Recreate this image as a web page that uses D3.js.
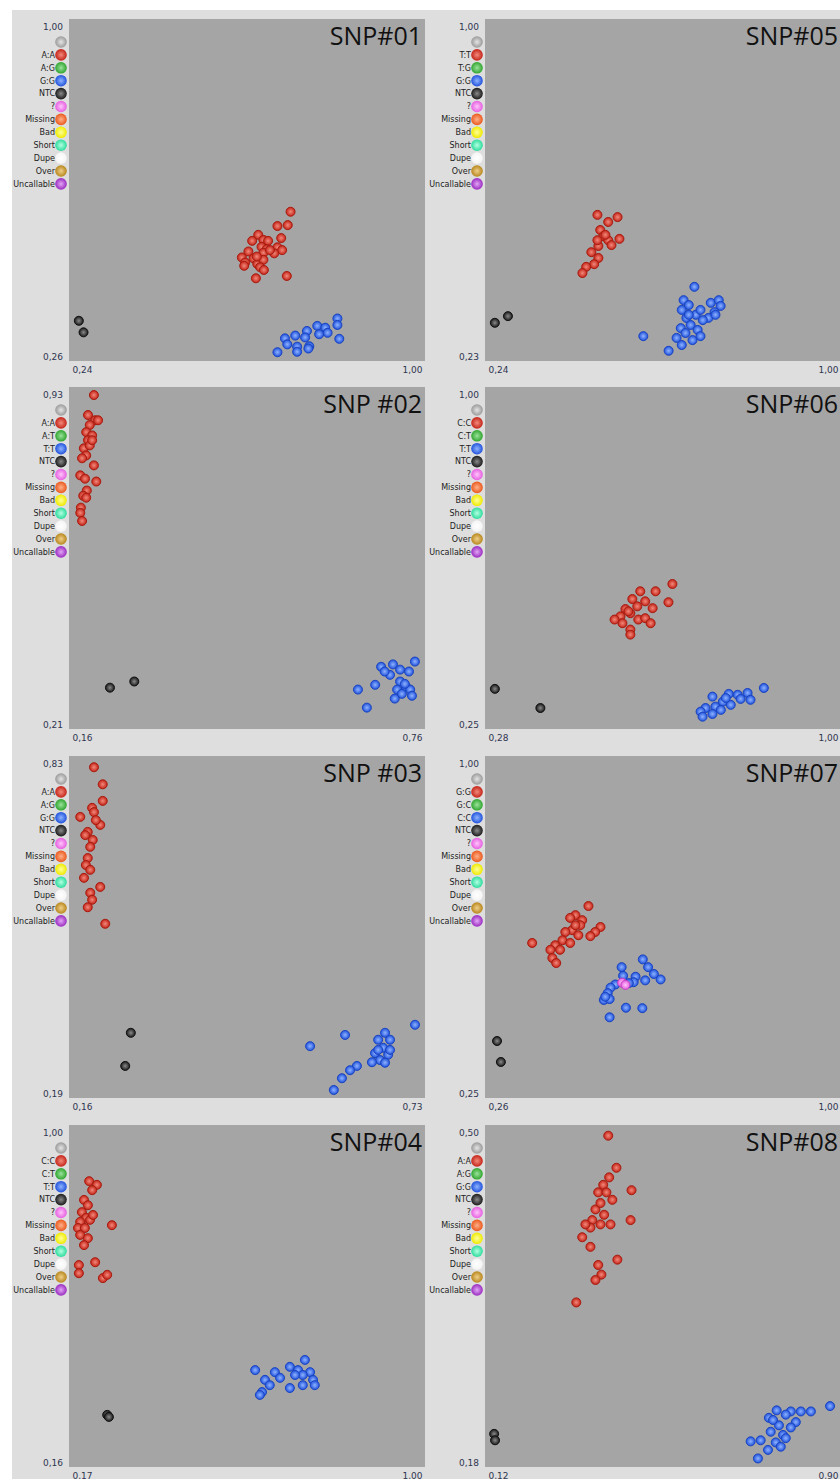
<!DOCTYPE html>
<html>
<head>
<meta charset="utf-8">
<script src="https://cdn.jsdelivr.net/npm/d3@7"></script>
<style>
  body { margin: 0; background: #fff; }
  svg { display: block; }
  .tick text { font-family: Tahoma, "DejaVu Sans", sans-serif; font-size: 9px; fill: #2e3550; }
  .legend text { font-family: Tahoma, "DejaVu Sans", sans-serif; font-size: 8px; fill: #222; }
  .title { font-family: "Open Sans", sans-serif; font-size: 25px; fill: #111; }
</style>
</head>
<body>
<svg width="840" height="1479"></svg>
<script>
// panel order: left column top to bottom, then right column
var titles = ["SNP#01", "SNP #02", "SNP #03", "SNP#04", "SNP#05", "SNP#06", "SNP#07", "SNP#08"];
var genotypes = [
  ["A:A", "A:G", "G:G"], ["A:A", "A:T", "T:T"], ["A:A", "A:G", "G:G"], ["C:C", "C:T", "T:T"],
  ["T:T", "T:G", "G:G"], ["C:C", "C:T", "T:T"], ["G:G", "G:C", "C:C"], ["A:A", "A:G", "G:G"]
];
var xRanges = [[0.24, 1.00], [0.16, 0.76], [0.16, 0.73], [0.17, 1.00], [0.24, 1.00], [0.28, 1.00], [0.26, 1.00], [0.12, 0.90]];
var yRanges = [[0.26, 1.00], [0.21, 0.93], [0.19, 0.83], [0.16, 1.00], [0.23, 1.00], [0.25, 1.00], [0.25, 1.00], [0.18, 0.50]];
var otherCalls = ["NTC", "?", "Missing", "Bad", "Short", "Dupe", "Over", "Uncallable"];

// [x, y] per sample: first homozygote (red), second homozygote (blue), NTC (black)
var snp01Hom1 = [[0.713,0.583],[0.685,0.552],[0.707,0.554],[0.644,0.533],[0.631,0.520],[0.655,0.522],[0.665,0.520],[0.693,0.526],[0.651,0.507],[0.662,0.502],[0.685,0.506],[0.695,0.500],[0.623,0.497],[0.655,0.494],[0.678,0.493],[0.609,0.484],[0.634,0.482],[0.616,0.473],[0.614,0.466],[0.642,0.470],[0.655,0.479],[0.648,0.463],[0.656,0.457],[0.639,0.439],[0.705,0.444],[0.669,0.500],[0.641,0.486]];
var snp01Hom2 = [[0.813,0.352],[0.813,0.338],[0.770,0.336],[0.787,0.332],[0.748,0.325],[0.792,0.321],[0.774,0.318],[0.723,0.315],[0.744,0.311],[0.701,0.309],[0.817,0.308],[0.706,0.296],[0.727,0.291],[0.753,0.292],[0.727,0.280],[0.685,0.279],[0.751,0.287]];
var snp01Ntc = [[0.261,0.347],[0.271,0.322]];

var snp02Hom1 = [[0.202,0.913],[0.192,0.871],[0.204,0.860],[0.195,0.850],[0.209,0.860],[0.189,0.835],[0.199,0.828],[0.192,0.818],[0.185,0.801],[0.195,0.807],[0.189,0.786],[0.182,0.780],[0.202,0.765],[0.179,0.744],[0.187,0.737],[0.206,0.731],[0.190,0.712],[0.184,0.701],[0.189,0.697],[0.180,0.676],[0.179,0.665],[0.182,0.648],[0.199,0.818]];
var snp02Hom2 = [[0.743,0.352],[0.706,0.346],[0.686,0.341],[0.718,0.335],[0.733,0.331],[0.701,0.324],[0.676,0.303],[0.718,0.310],[0.728,0.299],[0.713,0.293],[0.735,0.293],[0.738,0.280],[0.647,0.293],[0.721,0.284],[0.709,0.274],[0.662,0.255],[0.726,0.305],[0.692,0.331]];
var snp02Ntc = [[0.229,0.297],[0.270,0.310]];

var snp03Hom1 = [[0.200,0.809],[0.214,0.777],[0.214,0.746],[0.197,0.733],[0.178,0.716],[0.200,0.725],[0.210,0.701],[0.190,0.688],[0.198,0.673],[0.194,0.660],[0.190,0.639],[0.187,0.626],[0.194,0.617],[0.184,0.602],[0.210,0.585],[0.194,0.574],[0.197,0.561],[0.190,0.547],[0.218,0.516],[0.203,0.710],[0.186,0.682]];
var snp03Hom2 = [[0.714,0.327],[0.602,0.308],[0.546,0.287],[0.666,0.312],[0.674,0.299],[0.655,0.299],[0.663,0.284],[0.650,0.274],[0.671,0.271],[0.658,0.261],[0.645,0.257],[0.666,0.256],[0.621,0.250],[0.610,0.242],[0.597,0.227],[0.584,0.205],[0.655,0.280],[0.674,0.280]];
var snp03Ntc = [[0.259,0.312],[0.250,0.250]];

var snp04Hom1 = [[0.217,0.862],[0.235,0.853],[0.224,0.840],[0.205,0.816],[0.214,0.803],[0.200,0.786],[0.210,0.772],[0.196,0.762],[0.219,0.767],[0.226,0.779],[0.191,0.747],[0.207,0.747],[0.196,0.730],[0.214,0.722],[0.270,0.754],[0.231,0.663],[0.249,0.624],[0.259,0.632],[0.193,0.656],[0.193,0.636],[0.205,0.705]];
var snp04Hom2 = [[0.720,0.423],[0.685,0.406],[0.704,0.398],[0.650,0.393],[0.662,0.379],[0.732,0.393],[0.715,0.386],[0.739,0.374],[0.627,0.374],[0.604,0.398],[0.638,0.361],[0.620,0.344],[0.685,0.354],[0.715,0.361],[0.743,0.361],[0.615,0.337],[0.697,0.386]];
var snp04Ntc = [[0.259,0.288],[0.263,0.283]];

var snp05Hom1 = [[0.480,0.559],[0.523,0.554],[0.503,0.543],[0.486,0.525],[0.493,0.511],[0.527,0.505],[0.503,0.502],[0.510,0.491],[0.482,0.489],[0.467,0.475],[0.482,0.462],[0.473,0.448],[0.456,0.442],[0.448,0.428],[0.497,0.514],[0.480,0.502]];
var snp05Hom2 = [[0.687,0.397],[0.664,0.367],[0.675,0.356],[0.660,0.345],[0.722,0.361],[0.739,0.367],[0.743,0.354],[0.730,0.340],[0.717,0.327],[0.705,0.322],[0.690,0.334],[0.670,0.327],[0.679,0.311],[0.658,0.304],[0.668,0.293],[0.694,0.300],[0.700,0.286],[0.649,0.282],[0.683,0.277],[0.660,0.266],[0.632,0.253],[0.578,0.286],[0.732,0.334],[0.700,0.345],[0.675,0.334]];
var snp05Ntc = [[0.261,0.316],[0.289,0.331]];

var snp06Hom1 = [[0.659,0.568],[0.625,0.552],[0.594,0.552],[0.578,0.535],[0.604,0.530],[0.588,0.519],[0.564,0.513],[0.619,0.515],[0.574,0.504],[0.554,0.497],[0.590,0.490],[0.604,0.493],[0.651,0.528],[0.558,0.482],[0.574,0.468],[0.615,0.482],[0.574,0.457],[0.542,0.490],[0.570,0.508]];
var snp06Hom2 = [[0.844,0.340],[0.811,0.329],[0.791,0.325],[0.773,0.327],[0.740,0.321],[0.797,0.316],[0.761,0.310],[0.777,0.303],[0.746,0.299],[0.726,0.296],[0.757,0.292],[0.716,0.288],[0.740,0.283],[0.720,0.277],[0.767,0.318],[0.817,0.314]];
var snp06Ntc = [[0.300,0.338],[0.392,0.296]];

var snp07Hom1 = [[0.475,0.671],[0.448,0.651],[0.462,0.640],[0.437,0.645],[0.500,0.625],[0.458,0.629],[0.441,0.618],[0.427,0.614],[0.454,0.607],[0.489,0.614],[0.421,0.596],[0.437,0.590],[0.406,0.585],[0.396,0.575],[0.416,0.575],[0.400,0.557],[0.408,0.546],[0.358,0.590],[0.479,0.605],[0.448,0.629]];
var snp07Hom2 = [[0.588,0.554],[0.544,0.537],[0.599,0.537],[0.611,0.522],[0.625,0.510],[0.593,0.508],[0.573,0.516],[0.547,0.518],[0.569,0.504],[0.559,0.502],[0.531,0.499],[0.521,0.492],[0.515,0.480],[0.507,0.465],[0.519,0.467],[0.553,0.448],[0.587,0.447],[0.519,0.427],[0.510,0.472]];
var snp07Ntc = [[0.285,0.375],[0.293,0.329]];
var snp07Unknown = [[0.545,0.503],[0.552,0.498]];

var snp08Hom1 = [[0.390,0.490],[0.408,0.460],[0.392,0.451],[0.441,0.439],[0.379,0.444],[0.368,0.437],[0.386,0.437],[0.399,0.430],[0.362,0.421],[0.355,0.411],[0.439,0.411],[0.381,0.416],[0.373,0.407],[0.333,0.395],[0.351,0.404],[0.351,0.386],[0.410,0.374],[0.368,0.369],[0.375,0.360],[0.362,0.355],[0.320,0.334],[0.340,0.407],[0.395,0.407],[0.373,0.427]];
var snp08Hom2 = [[0.876,0.237],[0.834,0.232],[0.812,0.232],[0.790,0.232],[0.759,0.233],[0.742,0.226],[0.779,0.229],[0.801,0.222],[0.764,0.219],[0.790,0.217],[0.746,0.213],[0.773,0.210],[0.724,0.205],[0.757,0.203],[0.779,0.207],[0.702,0.204],[0.740,0.196],[0.768,0.199],[0.718,0.188],[0.751,0.224]];
var snp08Ntc = [[0.140,0.211],[0.142,0.205]];

var hom1 = [snp01Hom1, snp02Hom1, snp03Hom1, snp04Hom1, snp05Hom1, snp06Hom1, snp07Hom1, snp08Hom1];
var hom2 = [snp01Hom2, snp02Hom2, snp03Hom2, snp04Hom2, snp05Hom2, snp06Hom2, snp07Hom2, snp08Hom2];
var ntc = [snp01Ntc, snp02Ntc, snp03Ntc, snp04Ntc, snp05Ntc, snp06Ntc, snp07Ntc, snp08Ntc];

var svg = d3.select("svg");

// legend / marker colours: [rim, centre]
var legendColors = [
  ["#9a9a9a", "#e4e4e4"], ["#c42418", "#f28a7c"], ["#2fa52f", "#9be29b"], ["#2152dc", "#8fb4ff"],
  ["#1a1a1a", "#8a8a8a"], ["#e65fe0", "#ffc4fb"], ["#ea5a1e", "#ffb08a"], ["#eeea00", "#ffff9a"],
  ["#2edc9e", "#b2ffe2"], ["#f4f4f4", "#ffffff"], ["#b8861c", "#efd08a"], ["#9a2cc0", "#e2a6f6"]
];

var defs = svg.append("defs");
legendColors.forEach(function(c, i) {
  var g = defs.append("radialGradient").attr("id", "grad" + i)
      .attr("cx", "50%").attr("cy", "50%").attr("r", "50%");
  g.append("stop").attr("offset", "0%").attr("stop-color", c[1]);
  g.append("stop").attr("offset", "100%").attr("stop-color", c[0]);
});

// light panel background
svg.append("rect")
    .attr("x", 12).attr("y", 10)
    .attr("width", 840).attr("height", 1479)
    .attr("fill", "#dedede");

var fmt = d3.formatLocale({decimal: ",", thousands: ".", grouping: [3], currency: ["", ""]}).format(".2f");

var colLeft = [69, 485];
var rowTop = [19, 387, 756, 1125];
var plotW = 356, plotH = 342;

titles.forEach(function(title, p) {
  var left = colLeft[Math.floor(p / 4)];
  var top = rowTop[p % 4];
  var g = svg.append("g");

  var x = d3.scaleLinear().domain(xRanges[p]).range([left, left + plotW]);
  var y = d3.scaleLinear().domain(yRanges[p]).range([top + plotH, top]);

  g.append("rect")
      .attr("x", left).attr("y", top)
      .attr("width", plotW).attr("height", plotH)
      .attr("fill", "#a5a5a5");

  // y axis: only min and max
  var yAxis = g.append("g")
      .attr("transform", "translate(" + (left - 3) + ",0)")
      .call(d3.axisLeft(y).tickValues(yRanges[p]).tickSize(0).tickFormat(fmt));
  yAxis.select(".domain").remove();
  yAxis.selectAll(".tick text")
      .attr("dy", function(d) { return d === yRanges[p][1] ? "1.2em" : "-0.15em"; });

  var xAxis = g.append("g")
      .attr("transform", "translate(0," + (top + plotH + 2) + ")")
      .call(d3.axisBottom(x).tickValues(xRanges[p]).tickSize(0).tickFormat(fmt));
  xAxis.select(".domain").remove();
  xAxis.selectAll(".tick text")
      .attr("dy", "0.75em")
      .attr("text-anchor", function(d) { return d === xRanges[p][0] ? "start" : "end"; })
      .attr("dx", function(d) { return d === xRanges[p][0] ? 3 : -3; });

  // legend column
  var legendLabels = [""].concat(genotypes[p], otherCalls);
  var leg = g.append("g").attr("class", "legend");
  legendLabels.forEach(function(lbl, i) {
    var cy = top + 23 + i * 12.9;
    leg.append("circle")
        .attr("cx", left - 8).attr("cy", cy).attr("r", 5.8)
        .attr("fill", "url(#grad" + i + ")");
    leg.append("text")
        .attr("x", left - 14).attr("y", cy)
        .attr("dy", "0.35em")
        .attr("text-anchor", "end")
        .text(lbl);
  });

  g.append("text")
      .attr("class", "title")
      .attr("x", Math.min(left + plotW - 3, 838))
      .attr("y", top + 26)
      .attr("text-anchor", "end")
      .text(title);

  function drawPoints(data, ci, stroke) {
    g.append("g").selectAll("circle")
      .data(data)
      .enter().append("circle")
        .attr("cx", function(d) { return x(d[0]); })
        .attr("cy", function(d) { return y(d[1]); })
        .attr("r", 4.5)
        .attr("fill", "url(#grad" + ci + ")")
        .attr("stroke", stroke)
        .attr("stroke-width", 1);
  }
  drawPoints(hom1[p], 1, "#a81c10");
  drawPoints(hom2[p], 3, "#1a44c0");
  drawPoints(ntc[p], 4, "#111");
  if (p === 6) drawPoints(snp07Unknown, 5, "#c040c0");
});
</script>
</body>
</html>
